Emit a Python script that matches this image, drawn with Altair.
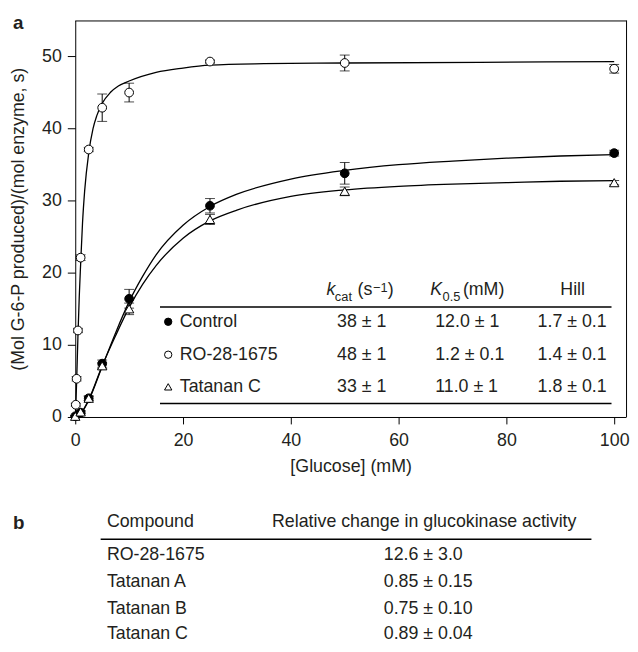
import altair as alt
import pandas as pd

# ---------------- data ----------------
# panel a: measured rates (x = [Glucose] mM, y = rate, e = error bar half-length)
ro_x = [0.1, 0.25, 0.5, 1, 2.5, 5, 10, 25, 50, 100]
ro_y = [1.7, 5.3, 12.0, 22.1, 37.1, 42.9, 45.0, 49.3, 49.1, 48.3]
ro_e = [0.2, 0.3, 0.3, 0.4, 0.3, 1.9, 1.3, 0.2, 1.1, 0.6]

ctl_x = [0, 1, 2.5, 5, 10, 25, 50, 100]
ctl_y = [0.1, 0.6, 2.6, 7.4, 16.4, 29.3, 33.8, 36.6]
ctl_e = [0.1, 0.2, 0.3, 0.5, 1.3, 1.0, 1.5, 0.4]

tat_x = [0, 1, 2.5, 5, 10, 25, 50, 100]
tat_y = [0.1, 0.7, 2.6, 7.1, 15.0, 27.4, 31.3, 32.5]
tat_e = [0.1, 0.2, 0.3, 0.4, 0.8, 0.7, 0.6, 0.3]

# fitted curves
ro_fit_x = [0, 0.1, 0.25, 0.5, 0.75, 1, 1.35, 1.75, 2.5, 3.3, 4, 5, 6.5, 8, 10, 15, 20, 25, 35, 50, 75, 100]
ro_fit_y = [0, 1.5, 4.7, 11.2, 16.8, 21.2, 26.9, 31.4, 36.6, 40.0, 41.8, 43.5, 45.0, 45.9, 46.6, 47.8, 48.4, 48.8, 49.0, 49.1, 49.2, 49.3]

ctl_fit_x = [0, 1, 2.5, 5, 7.5, 10, 12.5, 15, 20, 25, 30, 40, 50, 60, 70, 80, 90, 100]
ctl_fit_y = [0, 0.4, 2.3, 7.0, 11.7, 16.0, 19.5, 22.5, 26.6, 29.2, 30.9, 33.0, 34.2, 35.0, 35.5, 35.9, 36.2, 36.4]

tat_fit_x = [0, 1, 2.5, 5, 7.5, 10, 12.5, 15, 20, 25, 30, 40, 50, 60, 70, 80, 90, 100]
tat_fit_y = [0, 0.5, 2.4, 7.1, 11.3, 15.2, 18.4, 21.0, 24.8, 27.2, 28.7, 30.6, 31.5, 32.0, 32.3, 32.5, 32.7, 32.8]

x_ticks = [0, 20, 40, 60, 80, 100]
y_ticks = [0, 10, 20, 30, 40, 50]

# inset table of panel a
tbl_names = ["Control", "RO-28-1675", "Tatanan C"]
tbl_kcat = ["38 ± 1", "48 ± 1", "33 ± 1"]
tbl_k05 = ["12.0 ± 1", "1.2 ± 0.1", "11.0 ± 1"]
tbl_hill = ["1.7 ± 0.1", "1.4 ± 0.1", "1.8 ± 0.1"]

# panel b table
b_head = ["Compound", "Relative change in glucokinase activity"]
b_compounds = ["RO-28-1675", "Tatanan A", "Tatanan B", "Tatanan C"]
b_change = ["12.6 ± 3.0", "0.85 ± 0.15", "0.75 ± 0.10", "0.89 ± 0.04"]

# ---------------- layout / style ----------------
W, H = 557, 401
XMAX, YMAX = 102.2, 55
FONT = "Liberation Sans"
TXT = "#231f20"
FS = 18

xs = alt.Scale(domain=[0, XMAX], nice=False, zero=False)
ys = alt.Scale(domain=[0, YMAX], nice=False, zero=False)
EX = alt.X("x:Q", scale=xs)
EY = alt.Y("y:Q", scale=ys)


def gx(px):  # layout pixel (from plot left) -> x data position
    return px * XMAX / W


def gy(py):  # layout pixel (from plot top) -> y data position
    return (H - py) * YMAX / H


def series_df(xv, yv, ev):
    return pd.DataFrame({"x": xv, "y": yv, "lo": [a - b for a, b in zip(yv, ev)],
                         "hi": [a + b for a, b in zip(yv, ev)]})


ro = series_df(ro_x, ro_y, ro_e)
ctl = series_df(ctl_x, ctl_y, ctl_e)
tat = series_df(tat_x, tat_y, tat_e)

fits = pd.concat([
    pd.DataFrame({"x": ro_fit_x, "y": ro_fit_y, "s": "RO"}),
    pd.DataFrame({"x": ctl_fit_x, "y": ctl_fit_y, "s": "Control"}),
    pd.DataFrame({"x": tat_fit_x, "y": tat_fit_y, "s": "Tatanan C"}),
])

allpts = pd.concat([ro, ctl, tat])
caps = pd.concat([pd.DataFrame({"x": allpts["x"], "y": allpts["lo"]}),
                  pd.DataFrame({"x": allpts["x"], "y": allpts["hi"]})])

# curves + axes
base = alt.Chart(fits).mark_line(interpolate="monotone", color="black", strokeWidth=1.3).encode(
    x=alt.X("x:Q", scale=xs, axis=alt.Axis(
        values=x_ticks, format="d", title="[Glucose] (mM)", grid=False,
        tickSize=7, labelPadding=22, labelBaseline="alphabetic", labelFlush=False,
        labelFont=FONT, labelFontSize=FS, labelColor=TXT,
        titleFont=FONT, titleFontSize=FS, titleFontWeight="normal", titleColor=TXT,
        titleBaseline="alphabetic", titleY=55,
        domainColor="black", tickColor="black", domainWidth=1, tickWidth=1)),
    y=alt.Y("y:Q", scale=ys, axis=alt.Axis(
        values=y_ticks, format="d", title="(Mol G-6-P produced)/(mol enzyme, s)", grid=False,
        tickSize=8, labelPadding=6, labelFlush=False,
        labelFont=FONT, labelFontSize=FS, labelColor=TXT,
        titleFont=FONT, titleFontSize=FS, titleFontWeight="normal", titleColor=TXT,
        titleAngle=270, titleBaseline="alphabetic", titleAlign="center",
        titleX=-52, titleY=H / 2,
        domainColor="black", tickColor="black", domainWidth=1, tickWidth=1)),
    detail="s:N",
)

err_rules = alt.Chart(allpts).mark_rule(color="black", strokeWidth=1).encode(
    x=EX, y=alt.Y("lo:Q", scale=ys), y2="hi:Q")
err_caps = alt.Chart(caps).mark_tick(orient="horizontal", color="black", size=10, thickness=1).encode(
    x=EX, y=EY)


def pts(df, shape, fill, size):
    return alt.Chart(df).mark_point(shape=shape, filled=True, fill=fill, stroke="black",
                                    strokeWidth=1, size=size, opacity=1).encode(x=EX, y=EY)


p_ro = pts(ro, "circle", "white", 78)
p_ctl = pts(ctl, "circle", "black", 78)
p_tat = pts(tat, "triangle-up", "white", 90)


# ---------------- text placed through the same scales ----------------
def place(texts, pxs, pys):
    return pd.DataFrame({"t": texts, "x": [gx(v) for v in pxs], "y": [gy(v) for v in pys]})


def ptext(df, align="left", size=FS, style="normal", weight="normal", baseline="middle"):
    return alt.Chart(df).mark_text(align=align, baseline=baseline, font=FONT, fontSize=size,
                                   fontStyle=style, fontWeight=weight, color=TXT).encode(
        x=EX, y=EY, text="t:N")


one = pd.DataFrame({"d": [0]})


def hrule(x1, x2, yv, w=1.5):
    return alt.Chart(one).mark_rule(color="black", strokeWidth=w).encode(
        x=alt.value(x1), x2=alt.value(x2), y=alt.value(yv))


def vrule(xv, y1, y2, w=1):
    return alt.Chart(one).mark_rule(color="black", strokeWidth=w).encode(
        x=alt.value(xv), y=alt.value(y1), y2=alt.value(y2))


# frame: top and right edges of the box
frame = [hrule(0, W + 0.5, 0.5, 1), vrule(W + 0.5, 0, H, 1)]

# inset table (panel a)
row_y = [304.7, 338, 370.5]
HB, SUB, SUP = 278, 283.5, 275

hdr = place(["(s", ")", "(mM)"], [285.5, 316, 392], [HB, HB, HB])
hdr_it = place(["k", "K"], [254, 359], [HB, HB])
hdr_small = place(["cat", "0.5", "−1"], [262.5, 371.5, 301], [SUB, SUB, SUP])
hdr_hill = place(["Hill"], [503], [HB])

names_df = place(tbl_names, [105.7] * 3, row_y)
kcat_df = place(tbl_kcat, [289.7] * 3, row_y)
k05_df = place(tbl_k05, [364] * 3, row_y)
hill_df = place(tbl_hill, [502.5] * 3, row_y)


def tmark(i, shape, fill):
    d = pd.DataFrame({"x": [gx(94)], "y": [gy(row_y[i])]})
    return alt.Chart(d).mark_point(shape=shape, filled=True, fill=fill, stroke="black",
                                   strokeWidth=1, size=55, opacity=1).encode(x=EX, y=EY)


inset = [
    hrule(85.7, 542.3, 289.7), hrule(85.7, 542.3, 387.3),
    ptext(hdr, baseline="alphabetic"),
    ptext(hdr_it, style="italic", baseline="alphabetic"),
    ptext(hdr_small, size=13, baseline="alphabetic"),
    ptext(hdr_hill, align="center", baseline="alphabetic"),
    ptext(names_df), ptext(kcat_df, align="center"), ptext(k05_df), ptext(hill_df, align="center"),
    tmark(0, "circle", "black"), tmark(1, "circle", "white"), tmark(2, "triangle-up", "white"),
]

# panel labels
labels = ptext(place(["a", "b"], [-63, -63], [9, 514]), size=19, weight="bold", baseline="alphabetic")

# panel b table (below the plot, through the same scales)
b_rows_y = [541, 568, 595, 621]
table_b = [
    hrule(25.7, 522, 524.7),
    ptext(place(b_head, [32, 199], [507, 507])),
    ptext(place(b_compounds, [32] * 4, b_rows_y)),
    ptext(place(b_change, [312] * 4, b_rows_y)),
]

chart = alt.layer(
    base, err_rules, err_caps, p_ctl, p_tat, p_ro, *frame, *inset, labels, *table_b
).properties(
    width=W, height=H,
    autosize=alt.AutoSizeParams(type="none"),
    padding={"left": 68, "top": 9, "right": 4, "bottom": 230},
    background="white",
).configure_view(strokeWidth=0)

chart.save("out.html", embed_options={"renderer": "svg", "actions": False})
